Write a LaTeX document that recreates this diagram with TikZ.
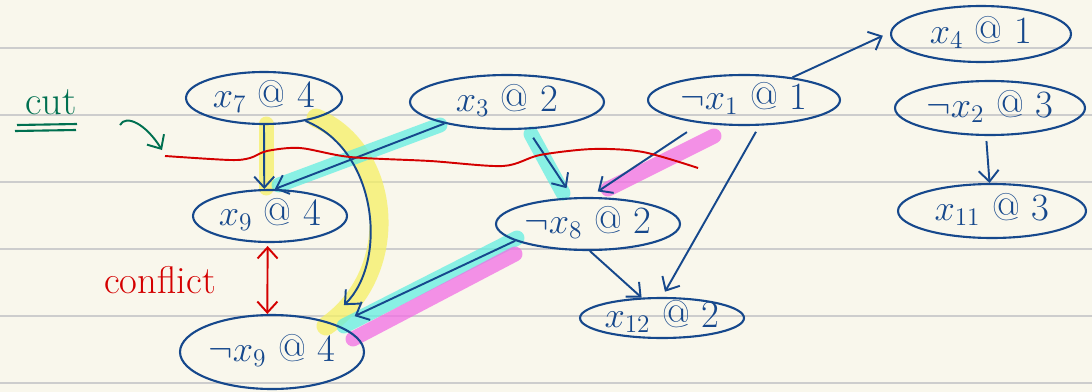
\documentclass[tikz,border=0pt]{standalone}
\usetikzlibrary{shapes.geometric,arrows.meta}
\definecolor{paper}{RGB}{249,247,236}
\definecolor{rule}{RGB}{205,205,205}
\definecolor{pen}{RGB}{22,72,140}
\definecolor{redpen}{RGB}{212,0,0}
\definecolor{greenpen}{RGB}{0,112,80}
\definecolor{hlyellow}{RGB}{245,240,100}
\definecolor{hlcyan}{RGB}{100,238,226}
\definecolor{hlmagenta}{RGB}{242,110,228}
\newcommand{\nodetext}[1]{\makebox[0pt]{\smash{\raisebox{-0.24em}{#1}}}}
\tikzset{
  lit/.style={draw=pen, line width=1.2pt, shape=ellipse, inner sep=0pt, text=pen,
    font=\fontsize{22}{26}\selectfont},
  arr/.style={draw=pen, line width=1.1pt, -{Straight Barb[length=2.2mm,width=4mm]}},
  confarr/.style={draw=redpen, line width=1.1pt, {Straight Barb[length=2.2mm,width=4mm]}-{Straight Barb[length=2.2mm,width=4mm]}},
  hl/.style={line width=0.3cm, line cap=round, opacity=0.75},
}
\begin{document}
\begin{tikzpicture}[x=0.02cm,y=-0.02cm]
\fill[paper] (0,0) rectangle (1092,392);
\useasboundingbox (0,0) rectangle (1092,392);
\foreach \yy in {48,115,182,249,316,383}
  \draw[rule, line width=1pt] (0,\yy) -- (1092,\yy);

% highlighter strokes
\draw[hl, draw=hlyellow] (266,124) -- (266,188);
\draw[hl, draw=hlyellow, line width=0.38cm] (316,118) .. controls (392,150) and (404,272) .. (326,326);
\draw[hl, draw=hlcyan] (440,125) -- (279,185);
\draw[hl, draw=hlcyan] (531,134) -- (563,193);
\draw[hl, draw=hlcyan] (517,238) -- (344,326);
\draw[hl, draw=hlmagenta] (515,254) -- (353,339);
\draw[hl, draw=hlmagenta] (608,189) -- (714,136);

% literals
\node[lit, minimum width=3.12cm, minimum height=1.04cm] (x7)  at (264,98)  {\nodetext{$x_7$ @ 4}};
\node[lit, minimum width=3.88cm, minimum height=1.08cm] (x3)  at (507,102) {\nodetext{$x_3$ @ 2}};
\node[lit, minimum width=3.84cm, minimum height=1.00cm] (nx1) at (744,100) {\nodetext{$\neg x_1$ @ 1}};
\node[lit, minimum width=3.60cm, minimum height=1.12cm] (x4)  at (981,34)  {\nodetext{$x_4$ @ 1}};
\node[lit, minimum width=3.80cm, minimum height=1.08cm] (nx2) at (990,108) {\nodetext{$\neg x_2$ @ 3}};
\node[lit, minimum width=3.76cm, minimum height=1.08cm] (x11) at (992,211) {\nodetext{$x_{11}$ @ 3}};
\node[lit, minimum width=3.08cm, minimum height=1.04cm] (x9)  at (270,216) {\nodetext{$x_9$ @ 4}};
\node[lit, minimum width=3.68cm, minimum height=1.48cm] (nx9) at (272,352) {\nodetext{$\neg x_9$ @ 4}};
\node[lit, minimum width=3.68cm, minimum height=1.04cm] (nx8) at (588,224) {\nodetext{$\neg x_8$ @ 2}};
\node[lit, minimum width=3.28cm, minimum height=0.80cm] (x12) at (662,318) {\nodetext{$x_{12}$ @ 2}};

% implications
\draw[arr] (x7.270) -- (x9.102);
\draw[arr] (x7.331) .. controls (378,150) and (388,262) .. ([xshift=0.42cm,yshift=0.3cm]nx9.32);
\draw[arr] (x3.199) -- (x9.80);
\draw[arr, shorten <=0.2cm, shorten >=0.22cm] (x3.-53) -- (nx8.120);
\draw[arr, shorten <=0.32cm, shorten >=0.2cm] (nx1.208) -- (nx8.87);
\draw[arr, shorten <=0.14cm, shorten >=0.12cm] (nx1.301) -- (x12.90);
\draw[arr, shorten >=0.16cm] (nx1.25) -- (x4.179);
\draw[arr, shorten <=0.1cm] (nx2.262) -- (x11.95);
\draw[arr, shorten >=0.4cm] (nx8.193) -- (nx9.23);
\draw[arr] (nx8.274) -- (x12.135);

% conflict
\draw[confarr, shorten <=0.06cm] (x9.265) -- (nx9.97);
\node[text=redpen, font=\fontsize{22}{26}\selectfont] (conflict) at (160,280) {conflict};

% cut
\draw[redpen, line width=1.1pt] plot[smooth] coordinates {(165,156) (230,160) (250,158) (267,151) (300,148) (350,157) (430,161) (503,166) (540,155) (593,149) (643,152) (698,168)};
\node[text=greenpen, font=\fontsize{23}{26}\selectfont] (cut) at (51,102) {cut};
\draw[greenpen, line width=1.2pt] (17,125) -- (77,124);
\draw[greenpen, line width=1.2pt] (15,131) -- (76,130);
\coordinate (g1) at (120,125);
\coordinate (g2) at (162,150);
\draw[greenpen, line width=1.1pt, -{Straight Barb[length=2.2mm,width=4mm]}] (g1) .. controls (126,114) and (146,124) .. (g2);
\end{tikzpicture}
\end{document}
